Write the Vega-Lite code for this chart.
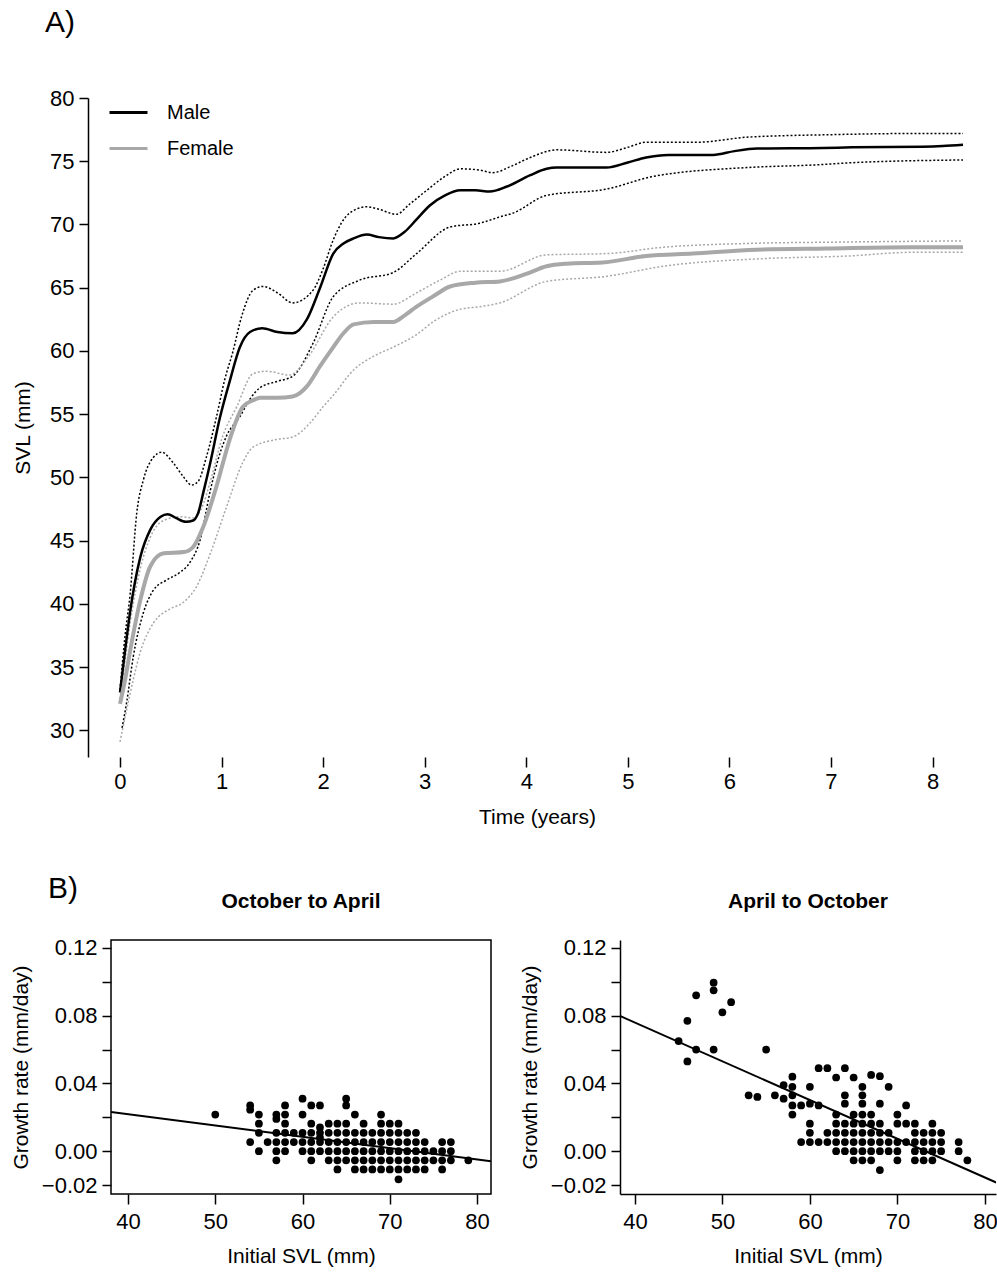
{
  "$schema": "https://vega.github.io/schema/vega-lite/v6.json",
  "padding": {"left": 9, "top": 8, "right": 0, "bottom": 0},
  "config": {
    "font": "Liberation Sans",
    "view": {"stroke": null},
    "axis": {"grid": false, "domainColor": "black", "tickColor": "black", "labelColor": "black", "titleColor": "black", "domainWidth": 1.5, "tickWidth": 1.5, "labelFontSize": 21, "titleFontSize": 21, "titleFontWeight": "normal", "labelOverlap": false},
    "title": {"color": "black"},
    "legend": {"labelColor": "black"}
  },
  "datasets": {
    "curves": [
      {"sex":"Male","band":"mean","t":0,"svl":33.0},{"sex":"Male","band":"mean","t":0.05,"svl":36.3},{"sex":"Male","band":"mean","t":0.1,"svl":39.4},{"sex":"Male","band":"mean","t":0.2,"svl":43.7},{"sex":"Male","band":"mean","t":0.3,"svl":45.9},{"sex":"Male","band":"mean","t":0.4,"svl":46.9},{"sex":"Male","band":"mean","t":0.47,"svl":47.1},{"sex":"Male","band":"mean","t":0.55,"svl":46.8},{"sex":"Male","band":"mean","t":0.65,"svl":46.5},{"sex":"Male","band":"mean","t":0.72,"svl":46.6},{"sex":"Male","band":"mean","t":0.77,"svl":47.2},{"sex":"Male","band":"mean","t":0.82,"svl":48.8},{"sex":"Male","band":"mean","t":0.89,"svl":51.2},{"sex":"Male","band":"mean","t":0.98,"svl":54.6},{"sex":"Male","band":"mean","t":1.08,"svl":57.6},{"sex":"Male","band":"mean","t":1.18,"svl":60.3},{"sex":"Male","band":"mean","t":1.28,"svl":61.5},{"sex":"Male","band":"mean","t":1.4,"svl":61.8},{"sex":"Male","band":"mean","t":1.55,"svl":61.5},{"sex":"Male","band":"mean","t":1.7,"svl":61.4},{"sex":"Male","band":"mean","t":1.84,"svl":62.5},{"sex":"Male","band":"mean","t":1.97,"svl":65.0},{"sex":"Male","band":"mean","t":2.1,"svl":67.7},{"sex":"Male","band":"mean","t":2.2,"svl":68.5},{"sex":"Male","band":"mean","t":2.3,"svl":68.9},{"sex":"Male","band":"mean","t":2.43,"svl":69.2},{"sex":"Male","band":"mean","t":2.55,"svl":69.0},{"sex":"Male","band":"mean","t":2.69,"svl":68.9},{"sex":"Male","band":"mean","t":2.8,"svl":69.4},{"sex":"Male","band":"mean","t":2.92,"svl":70.4},{"sex":"Male","band":"mean","t":3.05,"svl":71.5},{"sex":"Male","band":"mean","t":3.2,"svl":72.3},{"sex":"Male","band":"mean","t":3.35,"svl":72.7},{"sex":"Male","band":"mean","t":3.5,"svl":72.7},{"sex":"Male","band":"mean","t":3.64,"svl":72.6},{"sex":"Male","band":"mean","t":3.81,"svl":73.0},{"sex":"Male","band":"mean","t":4.04,"svl":73.9},{"sex":"Male","band":"mean","t":4.2,"svl":74.4},{"sex":"Male","band":"mean","t":4.3,"svl":74.5},{"sex":"Male","band":"mean","t":4.79,"svl":74.5},{"sex":"Male","band":"mean","t":5.0,"svl":74.9},{"sex":"Male","band":"mean","t":5.18,"svl":75.3},{"sex":"Male","band":"mean","t":5.4,"svl":75.5},{"sex":"Male","band":"mean","t":5.84,"svl":75.5},{"sex":"Male","band":"mean","t":6.05,"svl":75.8},{"sex":"Male","band":"mean","t":6.27,"svl":76.0},{"sex":"Male","band":"mean","t":6.92,"svl":76.05},{"sex":"Male","band":"mean","t":7.21,"svl":76.1},{"sex":"Male","band":"mean","t":7.9,"svl":76.15},{"sex":"Male","band":"mean","t":8.1,"svl":76.2},{"sex":"Male","band":"mean","t":8.3,"svl":76.3},
      {"sex":"Male","band":"upper","t":0,"svl":33.2},{"sex":"Male","band":"upper","t":0.05,"svl":37.5},{"sex":"Male","band":"upper","t":0.1,"svl":40.8},{"sex":"Male","band":"upper","t":0.165,"svl":47.2},{"sex":"Male","band":"upper","t":0.23,"svl":49.8},{"sex":"Male","band":"upper","t":0.33,"svl":51.6},{"sex":"Male","band":"upper","t":0.41,"svl":52.0},{"sex":"Male","band":"upper","t":0.52,"svl":51.2},{"sex":"Male","band":"upper","t":0.62,"svl":50.1},{"sex":"Male","band":"upper","t":0.705,"svl":49.4},{"sex":"Male","band":"upper","t":0.77,"svl":49.7},{"sex":"Male","band":"upper","t":0.85,"svl":51.6},{"sex":"Male","band":"upper","t":0.95,"svl":54.8},{"sex":"Male","band":"upper","t":1.03,"svl":57.7},{"sex":"Male","band":"upper","t":1.11,"svl":59.9},{"sex":"Male","band":"upper","t":1.2,"svl":62.8},{"sex":"Male","band":"upper","t":1.31,"svl":64.8},{"sex":"Male","band":"upper","t":1.41,"svl":65.1},{"sex":"Male","band":"upper","t":1.55,"svl":64.6},{"sex":"Male","band":"upper","t":1.7,"svl":63.8},{"sex":"Male","band":"upper","t":1.9,"svl":64.8},{"sex":"Male","band":"upper","t":2.0,"svl":66.5},{"sex":"Male","band":"upper","t":2.1,"svl":68.8},{"sex":"Male","band":"upper","t":2.26,"svl":70.9},{"sex":"Male","band":"upper","t":2.43,"svl":71.4},{"sex":"Male","band":"upper","t":2.55,"svl":71.2},{"sex":"Male","band":"upper","t":2.72,"svl":70.8},{"sex":"Male","band":"upper","t":2.85,"svl":71.6},{"sex":"Male","band":"upper","t":3.02,"svl":72.7},{"sex":"Male","band":"upper","t":3.2,"svl":73.8},{"sex":"Male","band":"upper","t":3.35,"svl":74.4},{"sex":"Male","band":"upper","t":3.54,"svl":74.3},{"sex":"Male","band":"upper","t":3.67,"svl":74.1},{"sex":"Male","band":"upper","t":3.85,"svl":74.6},{"sex":"Male","band":"upper","t":4.04,"svl":75.3},{"sex":"Male","band":"upper","t":4.3,"svl":75.9},{"sex":"Male","band":"upper","t":4.79,"svl":75.7},{"sex":"Male","band":"upper","t":5.0,"svl":76.1},{"sex":"Male","band":"upper","t":5.18,"svl":76.5},{"sex":"Male","band":"upper","t":5.68,"svl":76.5},{"sex":"Male","band":"upper","t":6.17,"svl":76.9},{"sex":"Male","band":"upper","t":6.99,"svl":77.1},{"sex":"Male","band":"upper","t":7.94,"svl":77.2},{"sex":"Male","band":"upper","t":8.3,"svl":77.2},
      {"sex":"Male","band":"lower","t":0.02,"svl":30.2},{"sex":"Male","band":"lower","t":0.065,"svl":32.2},{"sex":"Male","band":"lower","t":0.13,"svl":35.8},{"sex":"Male","band":"lower","t":0.23,"svl":39.3},{"sex":"Male","band":"lower","t":0.33,"svl":41.1},{"sex":"Male","band":"lower","t":0.46,"svl":41.9},{"sex":"Male","band":"lower","t":0.59,"svl":42.5},{"sex":"Male","band":"lower","t":0.69,"svl":43.3},{"sex":"Male","band":"lower","t":0.79,"svl":45.1},{"sex":"Male","band":"lower","t":0.89,"svl":49.0},{"sex":"Male","band":"lower","t":0.98,"svl":51.8},{"sex":"Male","band":"lower","t":1.05,"svl":53.3},{"sex":"Male","band":"lower","t":1.18,"svl":54.8},{"sex":"Male","band":"lower","t":1.28,"svl":56.2},{"sex":"Male","band":"lower","t":1.38,"svl":57.1},{"sex":"Male","band":"lower","t":1.55,"svl":57.6},{"sex":"Male","band":"lower","t":1.7,"svl":58.0},{"sex":"Male","band":"lower","t":1.9,"svl":60.6},{"sex":"Male","band":"lower","t":2.1,"svl":64.3},{"sex":"Male","band":"lower","t":2.36,"svl":65.6},{"sex":"Male","band":"lower","t":2.69,"svl":66.2},{"sex":"Male","band":"lower","t":2.92,"svl":67.7},{"sex":"Male","band":"lower","t":3.25,"svl":69.8},{"sex":"Male","band":"lower","t":3.54,"svl":70.1},{"sex":"Male","band":"lower","t":3.74,"svl":70.6},{"sex":"Male","band":"lower","t":3.87,"svl":70.9},{"sex":"Male","band":"lower","t":4.2,"svl":72.3},{"sex":"Male","band":"lower","t":4.79,"svl":72.8},{"sex":"Male","band":"lower","t":5.25,"svl":73.8},{"sex":"Male","band":"lower","t":6.17,"svl":74.5},{"sex":"Male","band":"lower","t":6.82,"svl":74.7},{"sex":"Male","band":"lower","t":7.25,"svl":74.9},{"sex":"Male","band":"lower","t":8.3,"svl":75.1},
      {"sex":"Female","band":"mean","t":0,"svl":32.1},{"sex":"Female","band":"mean","t":0.05,"svl":34.0},{"sex":"Female","band":"mean","t":0.1,"svl":36.3},{"sex":"Female","band":"mean","t":0.2,"svl":40.3},{"sex":"Female","band":"mean","t":0.3,"svl":43.0},{"sex":"Female","band":"mean","t":0.43,"svl":44.0},{"sex":"Female","band":"mean","t":0.63,"svl":44.1},{"sex":"Female","band":"mean","t":0.72,"svl":44.5},{"sex":"Female","band":"mean","t":0.82,"svl":46.1},{"sex":"Female","band":"mean","t":0.95,"svl":49.3},{"sex":"Female","band":"mean","t":1.08,"svl":53.0},{"sex":"Female","band":"mean","t":1.21,"svl":55.6},{"sex":"Female","band":"mean","t":1.31,"svl":56.1},{"sex":"Female","band":"mean","t":1.38,"svl":56.3},{"sex":"Female","band":"mean","t":1.55,"svl":56.3},{"sex":"Female","band":"mean","t":1.7,"svl":56.4},{"sex":"Female","band":"mean","t":1.84,"svl":57.2},{"sex":"Female","band":"mean","t":1.97,"svl":58.8},{"sex":"Female","band":"mean","t":2.1,"svl":60.3},{"sex":"Female","band":"mean","t":2.2,"svl":61.4},{"sex":"Female","band":"mean","t":2.3,"svl":62.1},{"sex":"Female","band":"mean","t":2.5,"svl":62.3},{"sex":"Female","band":"mean","t":2.69,"svl":62.3},{"sex":"Female","band":"mean","t":2.8,"svl":62.8},{"sex":"Female","band":"mean","t":2.92,"svl":63.5},{"sex":"Female","band":"mean","t":3.1,"svl":64.4},{"sex":"Female","band":"mean","t":3.25,"svl":65.1},{"sex":"Female","band":"mean","t":3.5,"svl":65.4},{"sex":"Female","band":"mean","t":3.74,"svl":65.5},{"sex":"Female","band":"mean","t":4.0,"svl":66.1},{"sex":"Female","band":"mean","t":4.2,"svl":66.7},{"sex":"Female","band":"mean","t":4.4,"svl":66.9},{"sex":"Female","band":"mean","t":4.75,"svl":67.0},{"sex":"Female","band":"mean","t":5.18,"svl":67.5},{"sex":"Female","band":"mean","t":5.64,"svl":67.7},{"sex":"Female","band":"mean","t":6.27,"svl":68.0},{"sex":"Female","band":"mean","t":6.96,"svl":68.1},{"sex":"Female","band":"mean","t":7.8,"svl":68.2},{"sex":"Female","band":"mean","t":8.3,"svl":68.2},
      {"sex":"Female","band":"upper","t":0,"svl":32.5},{"sex":"Female","band":"upper","t":0.05,"svl":35.5},{"sex":"Female","band":"upper","t":0.1,"svl":38.5},{"sex":"Female","band":"upper","t":0.2,"svl":42.8},{"sex":"Female","band":"upper","t":0.3,"svl":45.3},{"sex":"Female","band":"upper","t":0.43,"svl":46.6},{"sex":"Female","band":"upper","t":0.6,"svl":46.9},{"sex":"Female","band":"upper","t":0.72,"svl":46.8},{"sex":"Female","band":"upper","t":0.8,"svl":47.5},{"sex":"Female","band":"upper","t":0.9,"svl":50.0},{"sex":"Female","band":"upper","t":1.0,"svl":53.0},{"sex":"Female","band":"upper","t":1.15,"svl":55.6},{"sex":"Female","band":"upper","t":1.31,"svl":58.2},{"sex":"Female","band":"upper","t":1.44,"svl":58.4},{"sex":"Female","band":"upper","t":1.67,"svl":58.1},{"sex":"Female","band":"upper","t":1.85,"svl":59.5},{"sex":"Female","band":"upper","t":2.1,"svl":62.7},{"sex":"Female","band":"upper","t":2.36,"svl":63.8},{"sex":"Female","band":"upper","t":2.69,"svl":63.7},{"sex":"Female","band":"upper","t":2.92,"svl":64.6},{"sex":"Female","band":"upper","t":3.15,"svl":65.6},{"sex":"Female","band":"upper","t":3.35,"svl":66.3},{"sex":"Female","band":"upper","t":3.74,"svl":66.3},{"sex":"Female","band":"upper","t":4.2,"svl":67.6},{"sex":"Female","band":"upper","t":4.79,"svl":67.7},{"sex":"Female","band":"upper","t":5.35,"svl":68.2},{"sex":"Female","band":"upper","t":6.17,"svl":68.5},{"sex":"Female","band":"upper","t":6.99,"svl":68.6},{"sex":"Female","band":"upper","t":8.3,"svl":68.7},
      {"sex":"Female","band":"lower","t":0,"svl":29.1},{"sex":"Female","band":"lower","t":0.065,"svl":31.6},{"sex":"Female","band":"lower","t":0.13,"svl":34.0},{"sex":"Female","band":"lower","t":0.2,"svl":36.2},{"sex":"Female","band":"lower","t":0.33,"svl":38.5},{"sex":"Female","band":"lower","t":0.49,"svl":39.6},{"sex":"Female","band":"lower","t":0.62,"svl":40.1},{"sex":"Female","band":"lower","t":0.755,"svl":41.4},{"sex":"Female","band":"lower","t":0.89,"svl":44.0},{"sex":"Female","band":"lower","t":1.05,"svl":47.7},{"sex":"Female","band":"lower","t":1.21,"svl":51.2},{"sex":"Female","band":"lower","t":1.31,"svl":52.4},{"sex":"Female","band":"lower","t":1.54,"svl":53.0},{"sex":"Female","band":"lower","t":1.7,"svl":53.2},{"sex":"Female","band":"lower","t":1.87,"svl":54.3},{"sex":"Female","band":"lower","t":2.0,"svl":55.6},{"sex":"Female","band":"lower","t":2.1,"svl":56.5},{"sex":"Female","band":"lower","t":2.3,"svl":58.5},{"sex":"Female","band":"lower","t":2.5,"svl":59.6},{"sex":"Female","band":"lower","t":2.69,"svl":60.3},{"sex":"Female","band":"lower","t":2.92,"svl":61.3},{"sex":"Female","band":"lower","t":3.1,"svl":62.4},{"sex":"Female","band":"lower","t":3.35,"svl":63.3},{"sex":"Female","band":"lower","t":3.54,"svl":63.5},{"sex":"Female","band":"lower","t":3.74,"svl":63.8},{"sex":"Female","band":"lower","t":4.2,"svl":65.5},{"sex":"Female","band":"lower","t":4.79,"svl":65.9},{"sex":"Female","band":"lower","t":5.35,"svl":66.7},{"sex":"Female","band":"lower","t":6.33,"svl":67.3},{"sex":"Female","band":"lower","t":7.15,"svl":67.5},{"sex":"Female","band":"lower","t":7.8,"svl":67.8},{"sex":"Female","band":"lower","t":8.3,"svl":67.8}
    ],
    "oct_apr": [
      {"svl":50,"rate":0.0216},
      {"svl":54,"rate":0.027},{"svl":54,"rate":0.0245},{"svl":54,"rate":0.0054},
      {"svl":55,"rate":0.0216},{"svl":55,"rate":0.0162},{"svl":55,"rate":0.0108},{"svl":55,"rate":0},
      {"svl":56,"rate":0.0054},
      {"svl":57,"rate":0.0216},{"svl":57,"rate":0.019},{"svl":57,"rate":0.0108},{"svl":57,"rate":0.0054},{"svl":57,"rate":0},{"svl":57,"rate":-0.0054},
      {"svl":58,"rate":0.027},{"svl":58,"rate":0.0216},{"svl":58,"rate":0.0162},{"svl":58,"rate":0.0108},{"svl":58,"rate":0.0054},{"svl":58,"rate":0},
      {"svl":59,"rate":0.0108},{"svl":59,"rate":0.0054},
      {"svl":60,"rate":0.031},{"svl":60,"rate":0.0216},{"svl":60,"rate":0.0108},{"svl":60,"rate":0.0054},{"svl":60,"rate":0},
      {"svl":61,"rate":0.027},{"svl":61,"rate":0.0162},{"svl":61,"rate":0.0108},{"svl":61,"rate":0.0054},{"svl":61,"rate":0},{"svl":61,"rate":-0.0054},
      {"svl":62,"rate":0.027},{"svl":62,"rate":0.014},{"svl":62,"rate":0.0108},{"svl":62,"rate":0.008},{"svl":62,"rate":0.0054},{"svl":62,"rate":0},
      {"svl":63,"rate":0.0162},{"svl":63,"rate":0.0108},{"svl":63,"rate":0.0054},{"svl":63,"rate":0},{"svl":63,"rate":-0.0054},
      {"svl":64,"rate":0.0162},{"svl":64,"rate":0.0108},{"svl":64,"rate":0.0054},{"svl":64,"rate":0},{"svl":64,"rate":-0.0054},{"svl":64,"rate":-0.0108},
      {"svl":65,"rate":0.031},{"svl":65,"rate":0.027},{"svl":65,"rate":0.0162},{"svl":65,"rate":0.0108},{"svl":65,"rate":0.0054},{"svl":65,"rate":0},{"svl":65,"rate":-0.0054},
      {"svl":66,"rate":0.0216},{"svl":66,"rate":0.0108},{"svl":66,"rate":0.0054},{"svl":66,"rate":0},{"svl":66,"rate":-0.0054},{"svl":66,"rate":-0.0108},
      {"svl":67,"rate":0.0162},{"svl":67,"rate":0.0108},{"svl":67,"rate":0.0054},{"svl":67,"rate":0},{"svl":67,"rate":-0.0054},{"svl":67,"rate":-0.0108},
      {"svl":68,"rate":0.0108},{"svl":68,"rate":0.0054},{"svl":68,"rate":0},{"svl":68,"rate":-0.0054},{"svl":68,"rate":-0.0108},
      {"svl":69,"rate":0.0216},{"svl":69,"rate":0.0162},{"svl":69,"rate":0.0108},{"svl":69,"rate":0.0054},{"svl":69,"rate":0},{"svl":69,"rate":-0.0054},{"svl":69,"rate":-0.0108},
      {"svl":70,"rate":0.0162},{"svl":70,"rate":0.0108},{"svl":70,"rate":0.0054},{"svl":70,"rate":0},{"svl":70,"rate":-0.0054},{"svl":70,"rate":-0.0108},
      {"svl":71,"rate":0.0162},{"svl":71,"rate":0.0108},{"svl":71,"rate":0.0054},{"svl":71,"rate":0},{"svl":71,"rate":-0.0054},{"svl":71,"rate":-0.0108},{"svl":71,"rate":-0.0166},
      {"svl":72,"rate":0.0108},{"svl":72,"rate":0.0054},{"svl":72,"rate":0},{"svl":72,"rate":-0.0054},{"svl":72,"rate":-0.0108},
      {"svl":73,"rate":0.0108},{"svl":73,"rate":0.0054},{"svl":73,"rate":0},{"svl":73,"rate":-0.0054},{"svl":73,"rate":-0.0108},
      {"svl":74,"rate":0.0054},{"svl":74,"rate":0},{"svl":74,"rate":-0.0054},{"svl":74,"rate":-0.0108},
      {"svl":75,"rate":0},{"svl":75,"rate":-0.0054},
      {"svl":76,"rate":0.0054},{"svl":76,"rate":0},{"svl":76,"rate":-0.0054},{"svl":76,"rate":-0.0108},
      {"svl":77,"rate":0.0054},{"svl":77,"rate":0},{"svl":77,"rate":-0.0054},
      {"svl":79,"rate":-0.0054}
    ],
    "apr_oct": [
      {"svl":45,"rate":0.065},
      {"svl":46,"rate":0.077},{"svl":46,"rate":0.053},
      {"svl":47,"rate":0.092},{"svl":47,"rate":0.06},
      {"svl":49,"rate":0.0995},{"svl":49,"rate":0.095},{"svl":49,"rate":0.06},
      {"svl":50,"rate":0.082},
      {"svl":51,"rate":0.088},
      {"svl":53,"rate":0.033},
      {"svl":54,"rate":0.032},
      {"svl":55,"rate":0.06},
      {"svl":56,"rate":0.033},
      {"svl":57,"rate":0.039},{"svl":57,"rate":0.031},
      {"svl":58,"rate":0.044},{"svl":58,"rate":0.038},{"svl":58,"rate":0.033},{"svl":58,"rate":0.027},{"svl":58,"rate":0.0216},
      {"svl":59,"rate":0.027},{"svl":59,"rate":0.0054},
      {"svl":60,"rate":0.038},{"svl":60,"rate":0.028},{"svl":60,"rate":0.0162},{"svl":60,"rate":0.0108},{"svl":60,"rate":0.0054},
      {"svl":61,"rate":0.049},{"svl":61,"rate":0.027},{"svl":61,"rate":0.0054},
      {"svl":62,"rate":0.049},{"svl":62,"rate":0.0108},{"svl":62,"rate":0.0054},
      {"svl":63,"rate":0.0435},{"svl":63,"rate":0.0216},{"svl":63,"rate":0.0162},{"svl":63,"rate":0.0108},{"svl":63,"rate":0.0054},{"svl":63,"rate":0},
      {"svl":64,"rate":0.049},{"svl":64,"rate":0.033},{"svl":64,"rate":0.028},{"svl":64,"rate":0.0162},{"svl":64,"rate":0.0108},{"svl":64,"rate":0.0054},{"svl":64,"rate":0},
      {"svl":65,"rate":0.0435},{"svl":65,"rate":0.0216},{"svl":65,"rate":0.0162},{"svl":65,"rate":0.0108},{"svl":65,"rate":0.0054},{"svl":65,"rate":0},{"svl":65,"rate":-0.0054},
      {"svl":66,"rate":0.038},{"svl":66,"rate":0.033},{"svl":66,"rate":0.028},{"svl":66,"rate":0.0216},{"svl":66,"rate":0.0162},{"svl":66,"rate":0.0108},{"svl":66,"rate":0.0054},{"svl":66,"rate":0},{"svl":66,"rate":-0.0054},
      {"svl":67,"rate":0.045},{"svl":67,"rate":0.0216},{"svl":67,"rate":0.0162},{"svl":67,"rate":0.0108},{"svl":67,"rate":0.0054},{"svl":67,"rate":0},{"svl":67,"rate":-0.0054},
      {"svl":68,"rate":0.0443},{"svl":68,"rate":0.028},{"svl":68,"rate":0.0162},{"svl":68,"rate":0.0108},{"svl":68,"rate":0.0054},{"svl":68,"rate":0},{"svl":68,"rate":-0.0112},
      {"svl":69,"rate":0.038},{"svl":69,"rate":0.0108},{"svl":69,"rate":0.0054},{"svl":69,"rate":0},
      {"svl":70,"rate":0.0216},{"svl":70,"rate":0.0162},{"svl":70,"rate":0.0054},{"svl":70,"rate":0},{"svl":70,"rate":-0.0054},
      {"svl":71,"rate":0.027},{"svl":71,"rate":0.0162},{"svl":71,"rate":0.0054},
      {"svl":72,"rate":0.0162},{"svl":72,"rate":0.0108},{"svl":72,"rate":0.0054},{"svl":72,"rate":0},{"svl":72,"rate":-0.0054},
      {"svl":73,"rate":0.0108},{"svl":73,"rate":0.0054},{"svl":73,"rate":0},{"svl":73,"rate":-0.0054},
      {"svl":74,"rate":0.0162},{"svl":74,"rate":0.0108},{"svl":74,"rate":0.0054},{"svl":74,"rate":0},{"svl":74,"rate":-0.0054},
      {"svl":75,"rate":0.0108},{"svl":75,"rate":0.0054},{"svl":75,"rate":0},
      {"svl":77,"rate":0.0054},{"svl":77,"rate":0},
      {"svl":78,"rate":-0.0054}
    ],
    "fit_oa": [{"svl":38.05,"rate":0.0232},{"svl":81.6,"rate":-0.0059}],
    "fit_ao": [{"svl":38.3,"rate":0.0798},{"svl":81.3,"rate":-0.0185}]
  },
  "bounds": "flush",
  "spacing": 183,
  "vconcat": [
    {
      "width": 852,
      "height": 659,
      "title": {"text": "A)", "anchor": "start", "frame": "group", "fontSize": 30, "fontWeight": "normal", "dx": -66, "offset": 49},
      "layer": [
        {
          "data": {"name": "curves"},
          "transform": [{"filter": "datum.band != 'mean' && datum.sex == 'Male'"}],
          "mark": {"type": "line", "strokeDash": [2, 2], "strokeWidth": 1.5, "interpolate": "monotone", "color": "#000000"},
          "encoding": {
            "x": {"field": "t", "type": "quantitative", "scale": {"domain": [-0.0886, 8.3], "nice": false, "zero": false},
                  "axis": {"values": [0,1,2,3,4,5,6,7,8], "tickCount": 20, "format": "d", "domain": false, "tickSize": 10, "labelPadding": 4, "labelFontSize": 22, "title": "Time (years)", "titleFontSize": 21, "titlePadding": 14}},
            "y": {"field": "svl", "type": "quantitative", "scale": {"domain": [27.9, 80], "nice": false, "zero": false},
                  "axis": {"values": [30,35,40,45,50,55,60,65,70,75,80], "tickCount": 20, "format": "d", "offset": 23, "tickSize": 9, "labelPadding": 5, "labelFontSize": 22, "title": "SVL (mm)", "titleFontSize": 21, "titlePadding": 16}},
            "detail": {"field": "band"}
          }
        },
        {
          "data": {"name": "curves"},
          "transform": [{"filter": "datum.band != 'mean' && datum.sex == 'Female'"}],
          "mark": {"type": "line", "strokeDash": [2, 2], "strokeWidth": 1.5, "interpolate": "monotone", "color": "#a8a8a8"},
          "encoding": {
            "x": {"field": "t", "type": "quantitative"},
            "y": {"field": "svl", "type": "quantitative"},
            "detail": {"field": "band"}
          }
        },
        {
          "data": {"name": "curves"},
          "transform": [{"filter": "datum.band == 'mean'"}],
          "mark": {"type": "line", "interpolate": "monotone"},
          "encoding": {
            "x": {"field": "t", "type": "quantitative"},
            "y": {"field": "svl", "type": "quantitative"},
            "color": {"field": "sex", "type": "nominal", "scale": {"domain": ["Male", "Female"], "range": ["#000000", "#a8a8a8"]},
                      "legend": {"title": null, "orient": "none", "legendX": -3, "legendY": -6, "symbolType": "stroke", "symbolSize": 1444, "symbolStrokeWidth": 3, "labelFontSize": 20, "labelOffset": 18, "rowPadding": 5}},
            "strokeWidth": {"condition": {"test": "datum.sex == 'Female'", "value": 4}, "value": 2.5}
          }
        },
        {
          "mark": {"type": "rule", "color": "black", "strokeWidth": 1.5},
          "encoding": {"x": {"datum": 0}, "x2": {"datum": 8.3}, "y": {"datum": 27.9}}
        }
      ]
    },
    {
      "bounds": "flush",
      "spacing": 129,
      "title": {"text": "B)", "anchor": "start", "frame": "group", "fontSize": 30, "fontWeight": "normal", "dx": -63, "dy": 18},
      "hconcat": [
        {
          "width": 380,
          "height": 254,
          "view": {"stroke": "black", "strokeWidth": 1.5},
          "title": {"text": "October to April", "fontSize": 21, "fontWeight": "bold", "offset": 25},
          "layer": [
            {
              "data": {"name": "oct_apr"},
              "mark": {"type": "circle", "size": 60, "color": "black", "opacity": 1},
              "encoding": {
                "x": {"field": "svl", "type": "quantitative", "scale": {"domain": [38.05, 81.6], "nice": false, "zero": false},
                      "axis": {"values": [40,50,60,70,80], "tickCount": 20, "domain": false, "tickSize": 10, "labelPadding": 7, "labelFontSize": 22, "title": "Initial SVL (mm)", "titlePadding": 13}},
                "y": {"field": "rate", "type": "quantitative", "scale": {"domain": [-0.0253, 0.1247], "nice": false, "zero": false},
                      "axis": {"values": [-0.02,0,0.02,0.04,0.06,0.08,0.1,0.12], "tickCount": 20, "labelExpr": "datum.value == 0.1 || datum.value == 0.06 || datum.value == 0.02 ? '' : format(datum.value, '.2f')", "domain": false, "tickSize": 9, "labelPadding": 5, "labelFontSize": 22, "title": "Growth rate (mm/day)", "titlePadding": 10}}
              }
            },
            {
              "data": {"name": "fit_oa"},
              "mark": {"type": "line", "color": "black", "strokeWidth": 2, "clip": true},
              "encoding": {"x": {"field": "svl", "type": "quantitative"}, "y": {"field": "rate", "type": "quantitative"}}
            }
          ]
        },
        {
          "width": 376,
          "height": 254,
          "title": {"text": "April to October", "fontSize": 21, "fontWeight": "bold", "offset": 25},
          "layer": [
            {
              "data": {"name": "apr_oct"},
              "mark": {"type": "circle", "size": 60, "color": "black", "opacity": 1},
              "encoding": {
                "x": {"field": "svl", "type": "quantitative", "scale": {"domain": [38.3, 81.27], "nice": false, "zero": false},
                      "axis": {"values": [40,50,60,70,80], "tickCount": 20, "domain": true, "tickSize": 10, "labelPadding": 7, "labelFontSize": 22, "title": "Initial SVL (mm)", "titlePadding": 13}},
                "y": {"field": "rate", "type": "quantitative", "scale": {"domain": [-0.0253, 0.1247], "nice": false, "zero": false},
                      "axis": {"values": [-0.02,0,0.02,0.04,0.06,0.08,0.1,0.12], "tickCount": 20, "labelExpr": "datum.value == 0.1 || datum.value == 0.06 || datum.value == 0.02 ? '' : format(datum.value, '.2f')", "domain": true, "tickSize": 9, "labelPadding": 5, "labelFontSize": 22, "title": "Growth rate (mm/day)", "titlePadding": 10}}
              }
            },
            {
              "data": {"name": "fit_ao"},
              "mark": {"type": "line", "color": "black", "strokeWidth": 2, "clip": true},
              "encoding": {"x": {"field": "svl", "type": "quantitative"}, "y": {"field": "rate", "type": "quantitative"}}
            },
            {
              "mark": {"type": "rule", "color": "black", "strokeWidth": 1.5},
              "encoding": {"y": {"datum": 0.1247}}
            }
          ]
        }
      ]
    }
  ]
}
